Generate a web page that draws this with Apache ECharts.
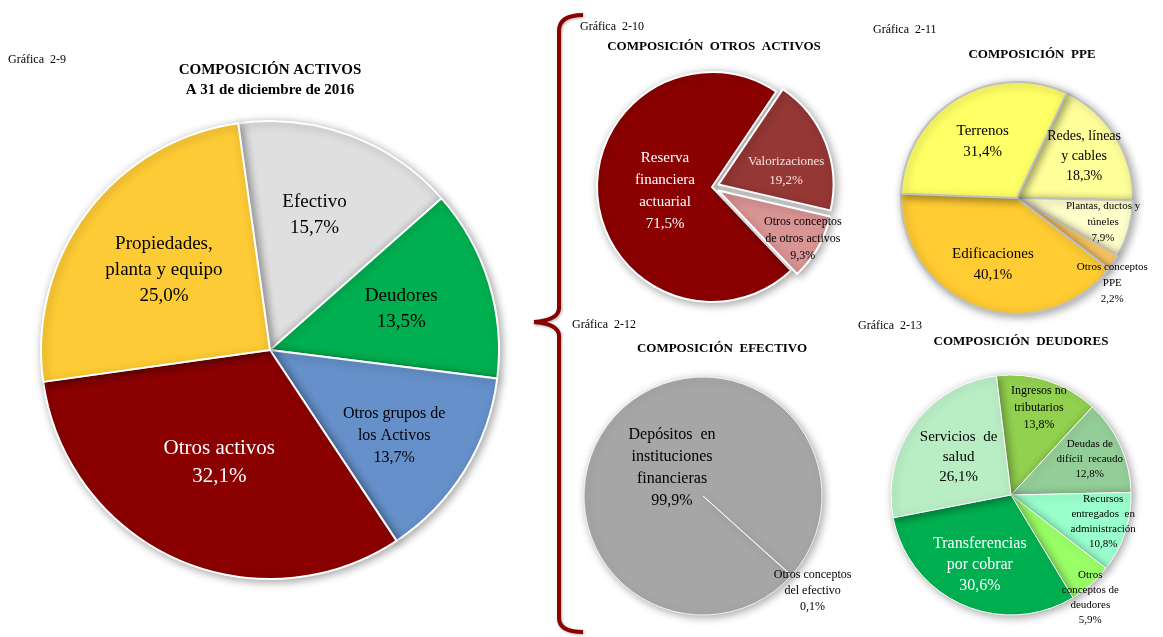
<!DOCTYPE html>
<html>
<head>
<meta charset="utf-8">
<script src="https://cdn.jsdelivr.net/npm/echarts@6/dist/echarts.min.js"></script>
<style>
html,body{margin:0;padding:0;background:#fff;}
#c{width:1163px;height:637px;}
</style>
</head>
<body>
<div id="c"></div>
<script>
// ---------- DATA ----------
const activosCats = ['Efectivo', 'Deudores', 'Otros grupos de\nlos Activos', 'Otros activos', 'Propiedades,\nplanta y equipo'];
const activosVals = [15.7, 13.5, 13.7, 32.1, 25.0];

const otrosActCats = ['Valorizaciones', 'Otros conceptos\nde otros activos', 'Reserva\nfinanciera\nactuarial'];
const otrosActVals = [19.2, 9.3, 71.5];

const ppeCats = ['Redes, líneas\ny cables', 'Plantas, ductos y\ntúneles', 'Otros conceptos\nPPE', 'Edificaciones', 'Terrenos'];
const ppeVals = [18.3, 7.9, 2.2, 40.1, 31.4];

const efectivoCats = ['Otros conceptos\ndel efectivo', 'Depósitos  en\ninstituciones\nfinancieras'];
const efectivoVals = [0.1, 99.9];

const deudoresCats = ['Ingresos no\ntributarios', 'Deudas de\ndifícil  recaudo', 'Recursos\nentregados  en\nadministración', 'Otros\nconceptos de\ndeudores', 'Transferencias\npor cobrar', 'Servicios  de\nsalud'];
const deudoresVals = [13.8, 12.8, 10.8, 5.9, 30.6, 26.1];

// ---------- STYLE ----------
const SERIF = '"Liberation Serif", "DejaVu Serif", serif';
const fmt = v => v.toFixed(1).replace('.', ',') + '%';

function makePie(cats, vals, st) {
  const cx = st.center[0], cy = st.center[1], R = st.radius;
  return {
    type: 'pie',
    center: st.center,
    radius: [0, R],
    startAngle: st.startAngle,
    clockwise: true,
    avoidLabelOverlap: false,
    selectedMode: 'multiple',
    selectedOffset: st.selectedOffset || 0,
    animation: false,
    silent: true,
    itemStyle: st.itemStyle,
    label: {
      show: true,
      position: 'inside',
      fontFamily: SERIF,
      align: 'center',
      formatter: p => p.name + '\n' + fmt(p.value)
    },
    labelLine: { show: false },
    labelLayout: function (params) {
      const i = params.dataIndex;
      const r = params.labelRect;
      const lx = r.x + r.width / 2, ly = r.y + r.height / 2;
      const dx = lx - cx, dy = ly - cy;
      const a = Math.atan2(-dy, dx) + ((st.rot && st.rot[i]) || 0) * Math.PI / 180;
      const d2 = st.ratio[i] * R;
      const nx = cx + d2 * Math.cos(a), ny = cy - d2 * Math.sin(a);
      return { dx: nx - lx, dy: ny - ly };
    },
    data: cats.map((c, i) => ({
      name: c,
      value: vals[i],
      selected: st.selected ? !!st.selected[i] : false,
      itemStyle: { color: st.colors[i] },
      label: { fontSize: st.fontSize[i], lineHeight: st.lineHeight[i], color: st.textColor[i] }
    }))
  };
}

const shadow = { shadowBlur: 8, shadowColor: 'rgba(0,0,0,0.35)', shadowOffsetX: 2, shadowOffsetY: 2 };

const series = [
  makePie(activosCats, activosVals, {
    center: [270, 350], radius: 229, startAngle: 98,
    colors: ['#E0DFDF', '#00B050', '#6590C9', '#8B0000', '#FDCB35'],
    textColor: ['#000', '#000', '#000', '#fff', '#000'],
    fontSize: [19, 19, 16, 21, 19],
    lineHeight: [26, 26, 22, 28, 26],
    ratio: [0.62, 0.6, 0.66, 0.54, 0.58],
    rot: [2, 0, -3, 0, 0],
    itemStyle: Object.assign({ borderColor: '#fff', borderWidth: 2 }, shadow)
  }),
  makePie(otrosActCats, otrosActVals, {
    center: [712, 187], radius: 115, startAngle: 56, selectedOffset: 7,
    selected: [true, true, false],
    colors: ['#953735', '#D99594', '#8B0000'],
    textColor: ['#F6E4E3', '#000', '#fff'],
    fontSize: [13, 12, 15],
    lineHeight: [19, 17, 22],
    ratio: [0.6, 0.85, 0.41],
    rot: [-10, 0, 0],
    itemStyle: Object.assign({ borderColor: '#fff', borderWidth: 2 }, shadow)
  }),
  makePie(ppeCats, ppeVals, {
    center: [1017, 198], radius: 116, startAngle: 64.7,
    colors: ['#FFFF99', '#FFFFCC', '#FFC966', '#FFCC33', '#FFFF66'],
    textColor: ['#000', '#000', '#000', '#000', '#000'],
    fontSize: [14, 11, 11, 15, 15],
    lineHeight: [20, 16, 16, 21, 21],
    ratio: [0.68, 0.77, 1.1, 0.61, 0.57],
    rot: [0, 0, -8, 0, 0],
    itemStyle: Object.assign({ borderColor: '#C0C0C0', borderWidth: 2 }, shadow)
  }),
  makePie(efectivoCats, efectivoVals, {
    center: [703, 496], radius: 119, startAngle: -41.8,
    colors: ['#D9D9D9', '#A6A6A6'],
    textColor: ['#000', '#000'],
    fontSize: [12, 16],
    lineHeight: [16, 22],
    ratio: [1.22, 0.35],
    rot: [1, 0],
    itemStyle: Object.assign({ borderColor: '#fff', borderWidth: 0.8 }, shadow)
  }),
  makePie(deudoresCats, deudoresVals, {
    center: [1011, 495], radius: 120, startAngle: 97,
    colors: ['#92D050', '#93CD97', '#99FFCC', '#99FF66', '#00B050', '#B9EDC4'],
    textColor: ['#000', '#000', '#000', '#000', '#fff', '#000'],
    fontSize: [12, 11, 11, 11, 16, 15],
    lineHeight: [17, 15, 15, 15, 21, 20],
    ratio: [0.76, 0.72, 0.8, 1.08, 0.64, 0.54],
    rot: [0, 0, 2, -4, 0, 0],
    itemStyle: Object.assign({ borderColor: '#fff', borderWidth: 1 }, shadow)
  })
];

function txt(x, y, text, font, align) {
  return {
    type: 'text', x: x, y: y, silent: true,
    style: { text: text, font: font, fill: '#000', align: align || 'left', verticalAlign: 'middle' }
  };
}
const small = '12px ' + SERIF;
const boldT = 'bold 13px ' + SERIF;

const braceStyle = { fill: 'none', stroke: '#8B0000', lineWidth: 4, shadowBlur: 3, shadowColor: 'rgba(0,0,0,0.3)', shadowOffsetX: 1, shadowOffsetY: 1 };
function bz(x1, y1, cx, cy, x2, y2) {
  return { type: 'bezierCurve', silent: true, shape: { x1: x1, y1: y1, cpx1: cx, cpy1: cy, x2: x2, y2: y2 }, style: braceStyle };
}
function ln(x1, y1, x2, y2) {
  return { type: 'line', silent: true, shape: { x1: x1, y1: y1, x2: x2, y2: y2 }, style: braceStyle };
}

const graphics = [
  txt(8, 60, 'Gráfica  2-9', small),
  txt(270, 70, 'COMPOSICIÓN ACTIVOS', 'bold 15px ' + SERIF, 'center'),
  txt(270, 90, 'A 31 de diciembre de 2016', 'bold 15px ' + SERIF, 'center'),
  txt(580, 27, 'Gráfica  2-10', small),
  txt(714, 47, 'COMPOSICIÓN  OTROS  ACTIVOS', boldT, 'center'),
  txt(873, 30, 'Gráfica  2-11', small),
  txt(1032, 55, 'COMPOSICIÓN  PPE', boldT, 'center'),
  txt(572, 325, 'Gráfica  2-12', small),
  txt(722, 349, 'COMPOSICIÓN  EFECTIVO', boldT, 'center'),
  txt(858, 326, 'Gráfica  2-13', small),
  txt(1021, 342, 'COMPOSICIÓN  DEUDORES', boldT, 'center'),
  bz(583, 15, 559, 15, 559, 31),
  ln(559, 30, 559, 309),
  bz(559, 308, 559, 320, 534, 322),
  bz(534, 322, 559, 324, 559, 336),
  ln(559, 335, 559, 619),
  bz(559, 618, 559, 632, 583, 632)
];

const chart = echarts.init(document.getElementById('c'), null, { renderer: 'canvas' });
chart.setOption({
  backgroundColor: '#fff',
  animation: false,
  series: series,
  graphic: graphics
});
</script>
</body>
</html>
